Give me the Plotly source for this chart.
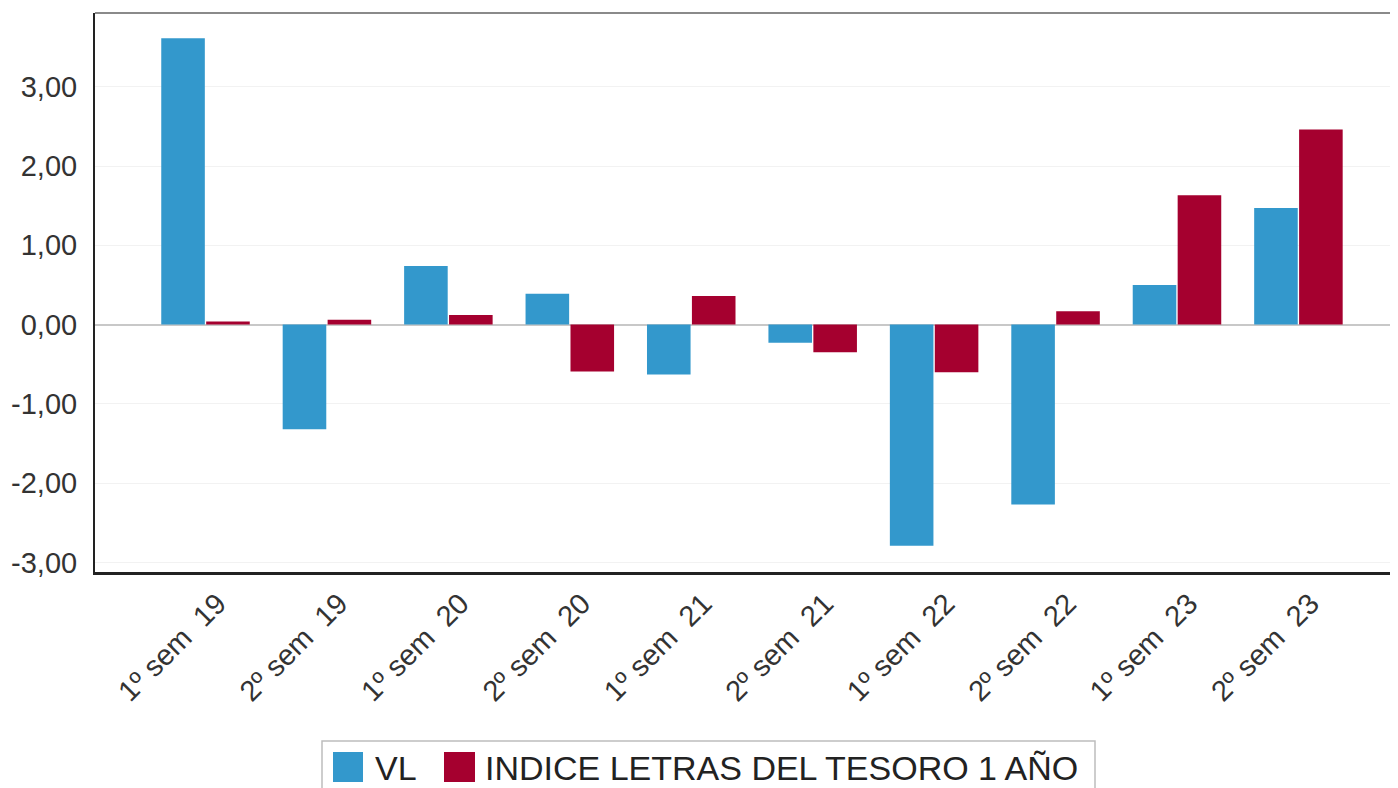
import plotly.graph_objects as go

categories = ["1º sem  19", "2º sem  19", "1º sem  20", "2º sem  20", "1º sem  21",
              "2º sem  21", "1º sem  22", "2º sem  22", "1º sem  23", "2º sem  23"]
vl_values = [3.61, -1.32, 0.74, 0.39, -0.63, -0.23, -2.79, -2.27, 0.50, 1.47]
indice_values = [0.04, 0.06, 0.12, -0.59, 0.36, -0.35, -0.60, 0.17, 1.63, 2.46]
series_names = ["VL", "INDICE LETRAS DEL TESORO 1 AÑO"]
y_tick_vals = [-3, -2, -1, 0, 1, 2, 3]
y_tick_text = ["-3,00", "-2,00", "-1,00", "0,00", "1,00", "2,00", "3,00"]

BLUE = "#3398CC"
RED = "#A5002F"

# the page body adds an 8px offset; the figure is sized so it fits the window
OFF = 8
W, H = 1398 - OFF, 788 - OFF
# plot area in window pixels: x 95..1398, y 13..572
ML, MR, MT, MB = 95 - OFF, 0, 13 - OFF, 788 - 572
PW, PH = W - ML - MR, H - MT - MB


def px_x(px):
    return (px - OFF - ML) / PW


def px_y(py):
    return (H - MB - (py - OFF)) / PH


xpos = list(range(len(categories)))
# rotated labels sit slightly right of the group centre in the reference
label_pos = [i + 0.1 for i in xpos]

fig = go.Figure()
fig.add_trace(go.Bar(x=xpos, y=vl_values, name=series_names[0],
                     marker=dict(color=BLUE, line=dict(width=0)), showlegend=False))
fig.add_trace(go.Bar(x=xpos, y=indice_values, name=series_names[1],
                     marker=dict(color=RED, line=dict(width=0)), showlegend=False))

font_family = "Liberation Sans, Arial, sans-serif"

fig.update_layout(
    width=W, height=H,
    margin=dict(l=ML, r=MR, t=MT, b=MB, pad=0, autoexpand=False),
    paper_bgcolor="white", plot_bgcolor="white",
    barmode="group", bargap=0.26, bargroupgap=0.03,
    font=dict(family=font_family, color="#333333"),
    showlegend=False,
)

fig.update_xaxes(
    automargin=False,
    range=[-0.91, 9.82],
    tickmode="array", tickvals=label_pos, ticktext=categories,
    tickangle=-45, tickfont=dict(size=29, color="#333333"),
    showgrid=False, zeroline=False,
    showline=True, linecolor="#222222", linewidth=3,
    ticks="", ticklabelstandoff=0,
)
fig.update_yaxes(
    automargin=False,
    range=[-3.12, 3.93],
    tickmode="array", tickvals=y_tick_vals, ticktext=y_tick_text,
    tickfont=dict(size=29, color="#333333"),
    showgrid=True, gridcolor="#F2F2F2", gridwidth=1,
    zeroline=True, zerolinecolor="#C8C8C8", zerolinewidth=2,
    showline=True, linecolor="#222222", linewidth=2,
    ticks="", ticklabelstandoff=10,
)

# top frame line
fig.add_shape(type="line", xref="paper", yref="paper", x0=0, x1=1, y0=1, y1=1,
              line=dict(color="#8A8A8A", width=2))

# custom legend (box is cut by the bottom edge, as in the reference)
fig.add_shape(type="rect", xref="paper", yref="paper",
              x0=px_x(322), x1=px_x(1095), y0=px_y(800), y1=px_y(741),
              line=dict(color="#BDBDBD", width=1.5), fillcolor="white")
fig.add_shape(type="rect", xref="paper", yref="paper",
              x0=px_x(333), x1=px_x(363), y0=px_y(782), y1=px_y(752),
              line=dict(width=0), fillcolor=BLUE)
fig.add_shape(type="rect", xref="paper", yref="paper",
              x0=px_x(444), x1=px_x(475), y0=px_y(782), y1=px_y(752),
              line=dict(width=0), fillcolor=RED)
fig.add_annotation(xref="paper", yref="paper", x=px_x(373), y=px_y(789),
                   text=series_names[0], showarrow=False, xanchor="left", yanchor="bottom",
                   font=dict(size=34, color="#222222", family=font_family))
fig.add_annotation(xref="paper", yref="paper", x=px_x(483), y=px_y(789),
                   text=series_names[1], showarrow=False, xanchor="left", yanchor="bottom",
                   font=dict(size=34, color="#222222", family=font_family))

fig.write_html("out.html")
